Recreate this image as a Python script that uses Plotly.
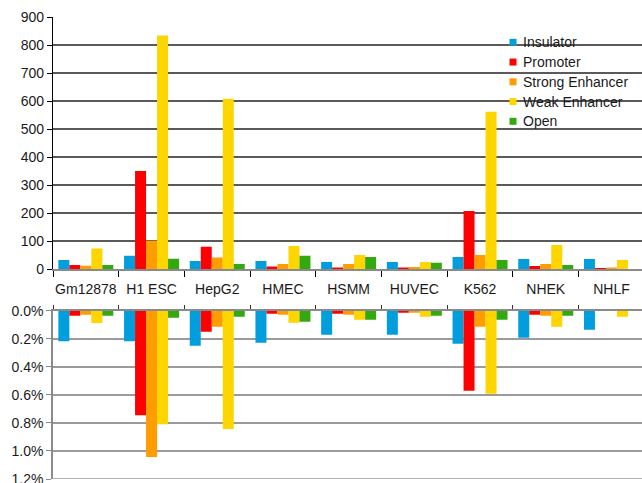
import plotly.graph_objects as go

# Cell lines (categories) and chromatin state classes
cell_lines = ["Gm12878", "H1 ESC", "HepG2", "HMEC", "HSMM", "HUVEC", "K562", "NHEK", "NHLF"]
states = ["Insulator", "Promoter", "Strong Enhancer", "Weak Enhancer", "Open"]
colors = ["#009EDD", "#FF0000", "#FF9C00", "#FFD500", "#34A80F"]

# Counts per state (upper panel)
insulator_counts = [33, 48, 30, 30, 26, 26, 44, 37, 37]
promoter_counts = [15, 351, 80, 10, 6, 6, 208, 12, 2.5]
strong_enh_counts = [13, 102, 42, 19, 19, 8, 51, 19, 6]
weak_enh_counts = [74, 834, 608, 83, 51, 26, 562, 87, 33]
open_counts = [15, 38, 19, 48, 44, 23, 33, 15, 1]

# Fractions per state (lower panel, plotted downward)
insulator_frac = [0.00217, 0.00217, 0.00250, 0.00229, 0.00171, 0.00171, 0.00236, 0.00193, 0.00136]
promoter_frac = [0.00036, 0.00745, 0.00150, 0.00021, 0.00021, 0.00014, 0.00571, 0.00029, 0.0]
strong_enh_frac = [0.00029, 0.01043, 0.00114, 0.00029, 0.00029, 0.00014, 0.00114, 0.00036, 0.0]
weak_enh_frac = [0.00088, 0.00810, 0.00843, 0.00086, 0.00064, 0.00043, 0.00593, 0.00114, 0.00043]
open_frac = [0.00036, 0.00050, 0.00043, 0.00079, 0.00064, 0.00036, 0.00064, 0.00036, 0.0]

# Tick values of the lower panel
frac_ticks = [0.0, 0.002, 0.004, 0.006, 0.008, 0.010, 0.012]

counts = [insulator_counts, promoter_counts, strong_enh_counts, weak_enh_counts, open_counts]
fracs = [insulator_frac, promoter_frac, strong_enh_frac, weak_enh_frac, open_frac]

W, H = 642, 483
ML, MR, MT, MB = 53, 0, 17, 4
PW, PH = W - ML - MR, H - MT - MB
CAT_W = 65.7  # pixel width of one category


def px_x(px):
    return (px - ML) / PW


def px_y(py):
    return (H - MB - py) / PH


FONT = "Liberation Sans, Arial, sans-serif"
GRID2 = "#9a9a9f"

fig = go.Figure()
for name, col, c, f in zip(states, colors, counts, fracs):
    fig.add_trace(go.Bar(x=cell_lines, y=c, name=name, marker_color=col,
                         marker_line_width=0, showlegend=False,
                         xaxis="x", yaxis="y"))
    fig.add_trace(go.Bar(x=cell_lines, y=f, name=name, marker_color=col,
                         marker_line_width=0, showlegend=False,
                         xaxis="x2", yaxis="y2"))

x_range = [-0.5, -0.5 + PW / CAT_W]

# Bottom gridline of the lower panel (at the edge of its range)
shapes = [dict(type="line", xref="x2 domain", yref="y2", x0=0, x1=1,
               y0=frac_ticks[-1], y1=frac_ticks[-1],
               line=dict(color=GRID2, width=1.5), layer="below")]
annotations = []

# Legend drawn as small squares with text labels
leg_y0, leg_step = 42.3, 19.75
for i, (name, col) in enumerate(zip(states, colors)):
    cy = leg_y0 + i * leg_step
    shapes.append(dict(type="rect", xref="paper", yref="paper",
                       x0=px_x(509.5), x1=px_x(516.5),
                       y0=px_y(cy + 3.5), y1=px_y(cy - 3.5),
                       fillcolor=col, line_width=0, layer="above"))
    annotations.append(dict(xref="paper", yref="paper", x=px_x(520.5), y=px_y(cy),
                            text=name, showarrow=False, xanchor="left", yanchor="middle",
                            font=dict(family=FONT, size=14, color="#1a1a1a")))

fig.update_layout(
    width=W, height=H,
    margin=dict(l=ML, r=MR, t=MT, b=MB, pad=0),
    paper_bgcolor="white", plot_bgcolor="white",
    barmode="group", bargap=0.163, bargroupgap=0,
    font=dict(family=FONT, size=14, color="#1a1a1a"),
    shapes=shapes, annotations=annotations,
    xaxis=dict(domain=[0, 1], anchor="y", type="category", range=x_range,
               tickson="boundaries", ticks="outside", ticklen=6, tickcolor="#000000",
               tickwidth=1, showline=True, linecolor="#8a8a8a", linewidth=1.5,
               showgrid=False, tickfont=dict(size=14), tickangle=0,
               ticklabelstandoff=6, automargin=False),
    yaxis=dict(domain=[px_y(269.3), 1], anchor="x", range=[0, 900], dtick=100,
               ticks="outside", ticklen=5, tickcolor="#000000", showline=True,
               linecolor="#000000", linewidth=1.2, gridcolor="#5a5a5a", gridwidth=1.5,
               zeroline=False, tickfont=dict(size=14), automargin=False,
               ticklabeloverflow="allow"),
    xaxis2=dict(domain=[0, 1], anchor="y2", type="category", range=x_range, side="top",
                tickson="boundaries", ticks="outside", ticklen=4, tickcolor="#333333",
                tickwidth=1, showline=True, linecolor="#8a8a8a", linewidth=1.5,
                showgrid=False, showticklabels=False, automargin=False),
    yaxis2=dict(domain=[0, px_y(310.7)], anchor="x2", range=[0.0120001, 0],
                tickmode="array", tickvals=frac_ticks,
                tickformat=".1%", ticks="outside", ticklen=5, tickcolor="#8a8a8a",
                showline=True, linecolor="#8a8a8a", linewidth=1.5,
                gridcolor=GRID2, gridwidth=1.5, zeroline=False,
                tickfont=dict(size=14), automargin=False,
                ticklabeloverflow="allow"),
)

fig.write_html("out.html")
